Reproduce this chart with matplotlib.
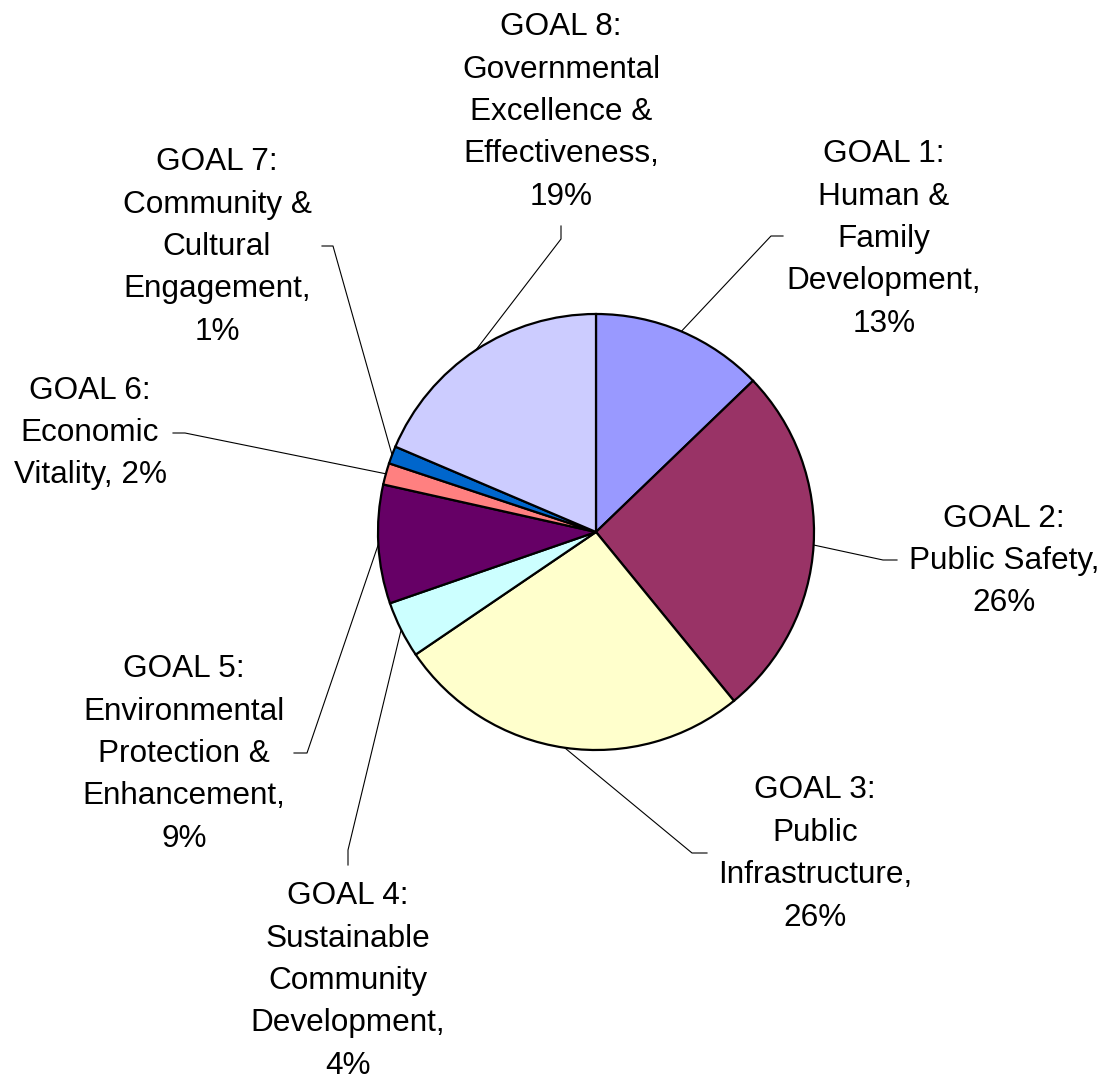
import matplotlib.pyplot as plt
import numpy as np

plt.rcParams['font.family'] = ['Liberation Sans', 'DejaVu Sans']

# budget share per goal (percent)
goals = ['GOAL 1', 'GOAL 2', 'GOAL 3', 'GOAL 4', 'GOAL 5', 'GOAL 6', 'GOAL 7', 'GOAL 8']
shares = [12.8, 26.3, 26.4, 4.2, 8.8, 1.6, 1.3, 18.6]
label_fmt = [
    'GOAL 1:\nHuman &\nFamily\nDevelopment,\n{:.0f}%',
    'GOAL 2:\nPublic Safety,\n{:.0f}%',
    'GOAL 3:\nPublic\nInfrastructure,\n{:.0f}%',
    'GOAL 4:\nSustainable\nCommunity\nDevelopment,\n{:.0f}%',
    'GOAL 5:\nEnvironmental\nProtection &\nEnhancement,\n{:.0f}%',
    'GOAL 6:\nEconomic\nVitality, {:.0f}%',
    'GOAL 7:\nCommunity &\nCultural\nEngagement,\n{:.0f}%',
    'GOAL 8:\nGovernmental\nExcellence &\nEffectiveness,\n{:.0f}%',
]
colors = ['#9999FF', '#993366', '#FFFFCC', '#CCFFFF',
          '#660066', '#FF8080', '#0066CC', '#CCCCFF']

# label layout in pixel units (origin top-left)
W, H = 1112, 1084
center = (596, 532)
radius = 218
text_pos = [(884, 239), (1004, 561), (815, 854), (348, 981),
            (184, 754), (90, 433), (217, 247), (561, 112)]
# leader line: elbow point, then end point next to the text
leader = [((771, 236), (783, 236)), ((883, 560), (897, 560)),
          ((692, 853), (707, 853)), ((348, 850), (348, 865)),
          ((307, 753), (294, 753)), ((185, 433), (173, 433)),
          ((333, 246), (322, 246)), ((561, 239), (561, 226))]

fig = plt.figure(figsize=(W / 100, H / 100), dpi=100)
ax = fig.add_axes([0, 0, 1, 1])

# y axis runs downward, so counterclock in data space is clockwise on screen
wedges, _ = ax.pie(shares, colors=colors, center=center, radius=radius,
                   startangle=-90, counterclock=True,
                   wedgeprops=dict(edgecolor='black', linewidth=1.6))

ax.set_xlim(0, W)
ax.set_ylim(H, 0)
ax.set_aspect('equal')
ax.axis('off')

for w, fmt, val, (tx, ty), (elbow, end) in zip(wedges, label_fmt, shares, text_pos, leader):
    mid = np.deg2rad((w.theta1 + w.theta2) / 2)
    ax_, ay_ = center[0] + radius * np.cos(mid), center[1] + radius * np.sin(mid)
    ax.plot([ax_, elbow[0], end[0]], [ay_, elbow[1], end[1]],
            color='black', linewidth=0.8, zorder=3)
    ax.text(tx, ty, fmt.format(val), ha='center', va='center',
            multialignment='center', fontsize=22.7, linespacing=1.54)

plt.savefig('out.png', dpi=100)
